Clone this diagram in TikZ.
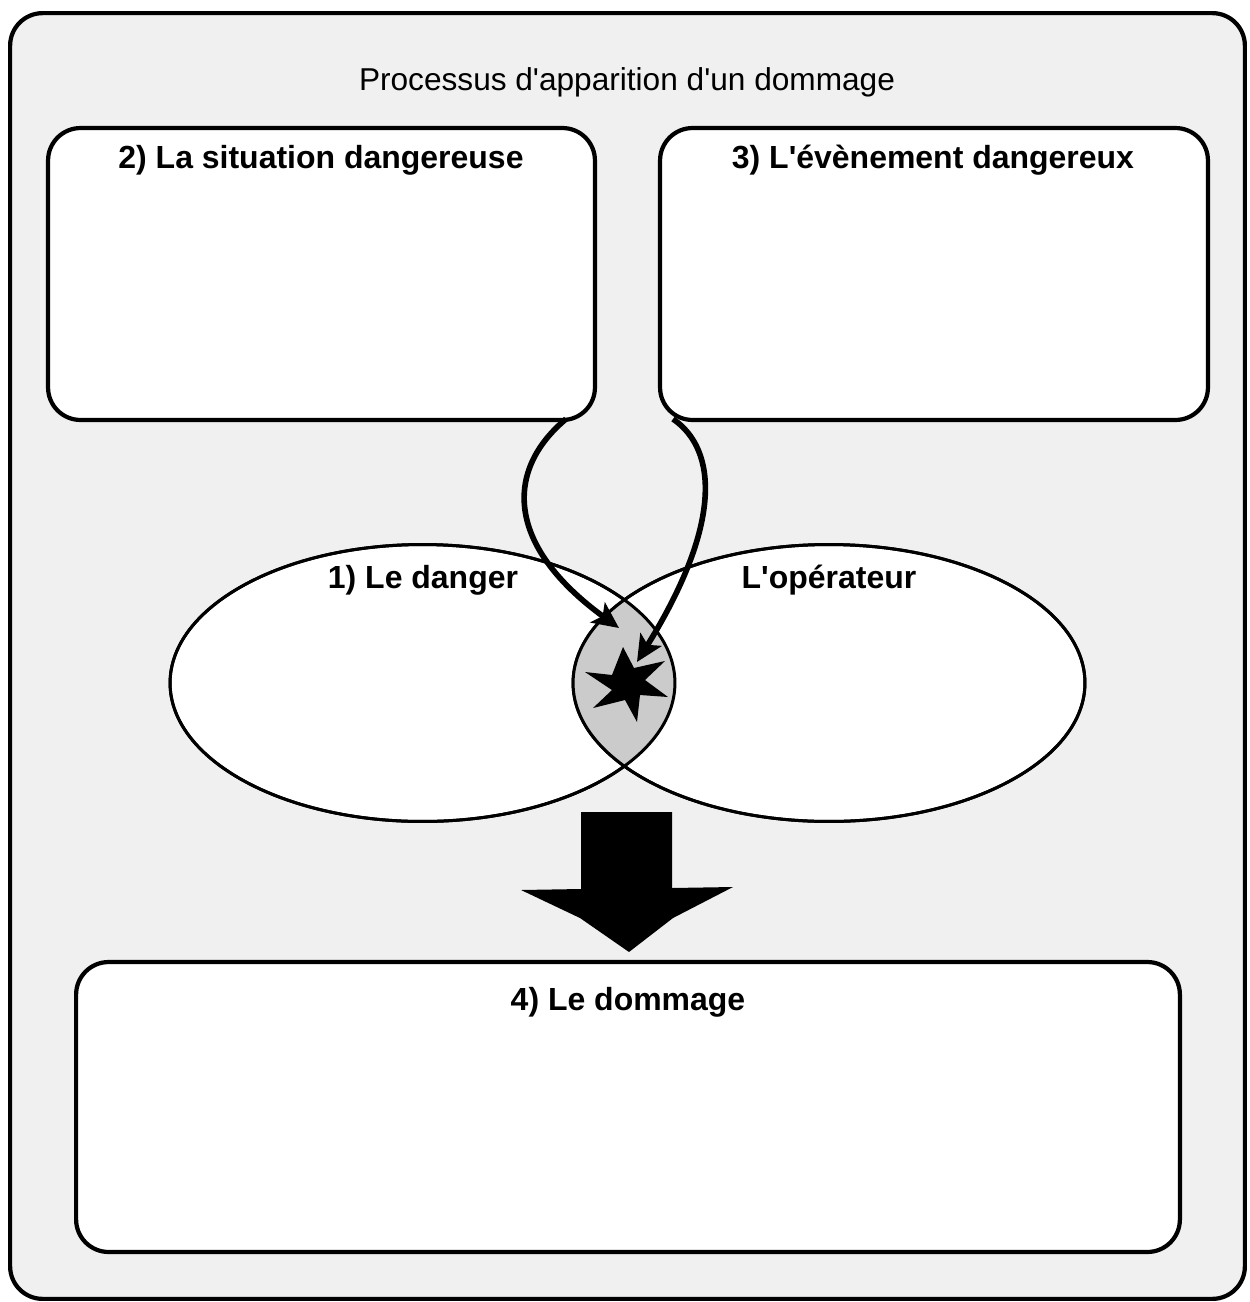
\documentclass[tikz,border=0pt]{standalone}
\usepackage{fontspec}
\setmainfont{Liberation Sans}[Ligatures=TeXOff]
\usetikzlibrary{arrows.meta,shapes.geometric}
\definecolor{bggray}{HTML}{F0F0F0}
\definecolor{lensgray}{HTML}{CBCBCB}
\begin{document}
\begin{tikzpicture}[x=0.02cm,y=-0.02cm,
  panel/.style={draw=black,line width=2.4pt,fill=white,rounded corners=0.65cm,inner sep=0pt},
  boxtitle/.style={font=\bfseries\fontsize{18.2}{20}\selectfont,inner sep=0pt},
  oval/.style={draw=black,line width=1.7pt,fill=white,ellipse,inner sep=0pt},
  ovaltitle/.style={font=\bfseries\fontsize{18.2}{20}\selectfont,inner sep=0pt},
  curvearrow/.style={draw=black,line width=3.2pt,-{Stealth[length=15pt,width=14pt,inset=3.5pt]}},
]
\useasboundingbox (0,0) rectangle (1249,1302);
% outer frame
\node[draw=black,line width=2.4pt,fill=bggray,rounded corners=0.65cm,inner sep=0pt,
  minimum width=24.7cm,minimum height=25.72cm] (frame) at (627.5,656) {};
\node[font=\fontsize{18}{20}\selectfont,inner sep=0pt] (title) at (627,82) {Processus d'apparition d'un dommage};
% boxes
\node[panel,minimum width=10.94cm,minimum height=5.84cm] (box2) at (321.5,274) {};
\node[boxtitle] (t2) at (321,160) {2) La situation dangereuse};
\node[panel,minimum width=10.96cm,minimum height=5.84cm] (box3) at (934,274) {};
\node[boxtitle] (t3) at (933,160) {3) L'évènement dangereux};
\node[panel,minimum width=22.08cm,minimum height=5.8cm] (box4) at (628,1107) {};
\node[boxtitle] (t4) at (628,1002) {4) Le dommage};
% ellipses
\node[oval,minimum width=10.1cm,minimum height=5.54cm] (danger) at (422.5,683) {};
\node[oval,minimum width=10.24cm,minimum height=5.54cm] (oper) at (829,683) {};
\begin{scope}
  \clip (danger.center) ellipse [x radius=5.05cm,y radius=2.77cm];
  \fill[lensgray] (oper.center) ellipse [x radius=5.12cm,y radius=2.77cm];
\end{scope}
\draw[line width=1.7pt] (danger.center) ellipse [x radius=5.05cm,y radius=2.77cm];
\draw[line width=1.7pt] (oper.center) ellipse [x radius=5.12cm,y radius=2.77cm];
\node[ovaltitle] (t1) at (423,580) {1) Le danger};
\node[ovaltitle] (to) at (829,580) {L'opérateur};
% star
\fill[black] (623,647) -- (634,668) -- (665,661) -- (645,680) -- (668,697) -- (640,695)
  -- (637,722) -- (625,700) -- (593,708) -- (612,690) -- (585,672) -- (612,675) -- cycle;
\coordinate (s1) at (619,628);
\coordinate (s2) at (637,662);
\coordinate (a1) at (566,419);
\coordinate (a2) at (673,419);
% curved arrows
\draw[curvearrow] (a1) .. controls (505,470) and (505,545) .. (s1);
\draw[curvearrow] (a2) .. controls (718,450) and (722,525) .. (s2);
% big arrow
\fill[black] (581,812) -- (672,812) -- (672,888) -- (733,887) -- (673,918) -- (629,952)
  -- (580,918) -- (521,890) -- (581,889) -- cycle;
\end{tikzpicture}
\end{document}
